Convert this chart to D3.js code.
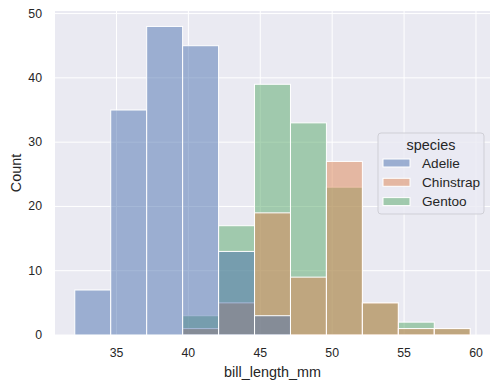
<!DOCTYPE html>
<html>
<head>
<meta charset="utf-8">
<script src="https://cdn.jsdelivr.net/npm/d3@7"></script>
<style>
  body { margin: 0; background: #fff; }
  text { font-family: "Liberation Sans", Arial, sans-serif; fill: #262626; }
</style>
</head>
<body>
<div id="chart"></div>
<script>
// bins of bill_length_mm (width 2.5)
const binEdges = [32.1, 34.6, 37.1, 39.6, 42.1, 44.6, 47.1, 49.6, 52.1, 54.6, 57.1, 59.6];
const species = ["Adelie", "Chinstrap", "Gentoo"];
const adelie    = [7, 35, 48, 45, 13, 3, 0, 0, 0, 0, 0];
const chinstrap = [0, 0, 0, 1, 5, 19, 9, 27, 5, 1, 1];
const gentoo    = [0, 0, 0, 3, 17, 39, 33, 23, 5, 2, 1];
const xTicks = [35, 40, 45, 50, 55, 60];
const yTicks = [0, 10, 20, 30, 40, 50];

const width = 499, height = 387;
const margin = {top: 11, right: 9, bottom: 52, left: 55};

const colorScale = d3.scaleOrdinal()
  .domain(species)
  .range(["#4c72b0", "#dd8452", "#55a868"]);

const counts = {Adelie: adelie, Chinstrap: chinstrap, Gentoo: gentoo};

const svg = d3.select("#chart")
  .append("svg")
    .attr("width", width)
    .attr("height", height);

const xMin = binEdges[0], xMax = binEdges[binEdges.length - 1];
const pad = (xMax - xMin) * 0.05;
const x = d3.scaleLinear()
  .domain([xMin - pad, xMax + pad])
  .range([margin.left, width - margin.right]);

const yMax = d3.max([...adelie, ...chinstrap, ...gentoo]) * 1.05;
const y = d3.scaleLinear()
  .domain([0, yMax])
  .range([height - margin.bottom, margin.top]);

// background
svg.append("rect")
  .attr("x", margin.left)
  .attr("y", margin.top)
  .attr("width", width - margin.left - margin.right)
  .attr("height", height - margin.top - margin.bottom)
  .attr("fill", "#eaeaf2");

// grid
svg.append("g")
  .selectAll("line")
  .data(xTicks)
  .join("line")
    .attr("x1", d => x(d)).attr("x2", d => x(d))
    .attr("y1", margin.top).attr("y2", height - margin.bottom)
    .attr("stroke", "#fff").attr("stroke-width", 1);
svg.append("g")
  .selectAll("line")
  .data(yTicks)
  .join("line")
    .attr("x1", margin.left).attr("x2", width - margin.right)
    .attr("y1", d => y(d)).attr("y2", d => y(d))
    .attr("stroke", "#fff").attr("stroke-width", 1);

// bars - drawn in reverse hue order like seaborn
species.slice().reverse().forEach(sp => {
  const bars = counts[sp].map((c, i) => ({x0: binEdges[i], x1: binEdges[i + 1], count: c}))
    .filter(d => d.count > 0);
  svg.append("g")
    .selectAll("rect")
    .data(bars)
    .join("rect")
      .attr("x", d => x(d.x0))
      .attr("y", d => y(d.count))
      .attr("width", d => x(d.x1) - x(d.x0))
      .attr("height", d => y(0) - y(d.count))
      .attr("fill", colorScale(sp))
      .attr("fill-opacity", 0.5)
      .attr("stroke", "#fff")
      .attr("stroke-width", 1);
});

// tick labels
svg.append("g")
  .selectAll("text")
  .data(xTicks)
  .join("text")
    .attr("x", d => x(d))
    .attr("y", height - margin.bottom + 22)
    .attr("text-anchor", "middle")
    .style("font-size", "12.3px")
    .text(d => d);
svg.append("g")
  .selectAll("text")
  .data(yTicks)
  .join("text")
    .attr("x", margin.left - 13)
    .attr("y", d => y(d))
    .attr("dominant-baseline", "central")
    .attr("text-anchor", "end")
    .style("font-size", "12.3px")
    .text(d => d);

// axis labels
svg.append("text")
  .attr("x", (margin.left + width - margin.right) / 2)
  .attr("y", height - 10)
  .attr("text-anchor", "middle")
  .style("font-size", "14.4px")
  .text("bill_length_mm");
svg.append("text")
  .attr("transform", `translate(20.5, ${(margin.top + height - margin.bottom) / 2}) rotate(-90)`)
  .attr("text-anchor", "middle")
  .style("font-size", "14.4px")
  .text("Count");

// legend
const legend = svg.append("g").attr("transform", "translate(378, 133)");
legend.append("rect")
  .attr("width", 106).attr("height", 81)
  .attr("rx", 3)
  .attr("fill", "#eaeaf2").attr("fill-opacity", 0.8)
  .attr("stroke", "#cfcfd6");
legend.append("text")
  .attr("x", 53).attr("y", 12)
  .attr("text-anchor", "middle")
  .attr("dominant-baseline", "central")
  .style("font-size", "14.4px")
  .text("species");
const items = legend.selectAll(".item")
  .data(species)
  .join("g")
    .attr("class", "item")
    .attr("transform", (d, i) => `translate(0, ${30 + i * 19.3})`);
items.append("rect")
  .attr("x", 5).attr("y", -4)
  .attr("width", 27).attr("height", 8)
  .attr("fill", d => colorScale(d)).attr("fill-opacity", 0.5)
  .attr("stroke", "#fff").attr("stroke-width", 1);
items.append("text")
  .attr("x", 44).attr("y", 0)
  .attr("dominant-baseline", "central")
  .style("font-size", "13.6px")
  .text(d => d);
</script>
</body>
</html>
